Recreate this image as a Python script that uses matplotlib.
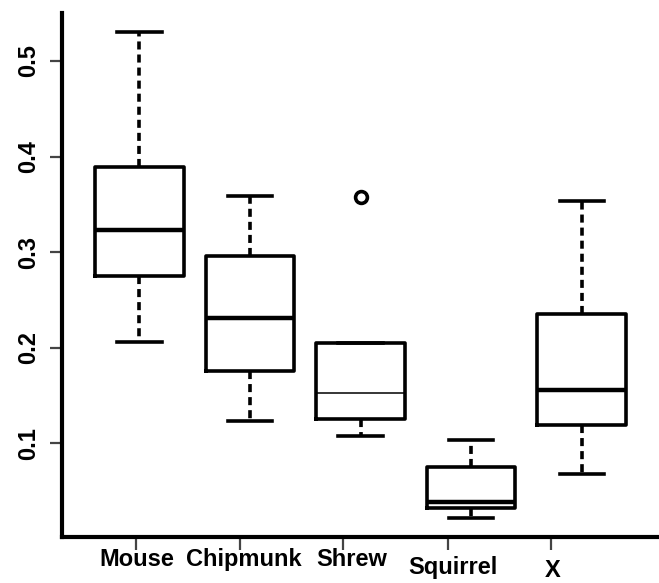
import matplotlib
matplotlib.use("Agg")
import matplotlib.pyplot as plt

# --- Data ---
species = ["Mouse", "Chipmunk", "Shrew", "Squirrel", "X"]
q1 = [0.275, 0.176, 0.125, 0.032, 0.119]
medians = [0.323, 0.231, 0.152, 0.038, 0.156]
q3 = [0.389, 0.296, 0.205, 0.075, 0.235]
whisk_lo = [0.206, 0.123, 0.107, 0.0215, 0.068]
whisk_hi = [0.530, 0.359, 0.205, 0.103, 0.353]
outliers = [[], [], [0.358], [], []]
y_ticks = [0.1, 0.2, 0.3, 0.4, 0.5]

# --- Layout ---
box_pos = [1, 2, 3, 4, 5]
tick_pos = [0.973, 1.909, 2.845, 3.79, 4.72]   # labels sit left of the boxes in the reference
label_pos = [0.98, 1.94, 2.92, 3.84, 4.74]
label_drop = [8, 8, 8, 14, 16]                 # points below the axis
median_lw = [3.2, 3.2, 1.1, 3.2, 3.2]

plt.rcParams["font.family"] = ["Liberation Sans", "DejaVu Sans"]
plt.rcParams["lines.scale_dashes"] = False

fig = plt.figure(figsize=(6.59, 5.83), dpi=100)
ax = fig.add_axes([0.0941, 0.0789, 0.9059, 0.8988])

stats = []
for i, name in enumerate(species):
    stats.append({
        "label": name,
        "q1": q1[i], "med": medians[i], "q3": q3[i],
        "whislo": whisk_lo[i], "whishi": whisk_hi[i],
        "fliers": outliers[i],
    })

lw = 2.6
parts = ax.bxp(
    stats, positions=box_pos, widths=0.8, showfliers=True,
    boxprops=dict(color="black", linewidth=lw),
    whiskerprops=dict(color="black", linewidth=lw, linestyle=(0, (5.8, 3.6))),
    capprops=dict(color="black", linewidth=lw),
    medianprops=dict(color="black", linewidth=3.2),
    flierprops=dict(marker="o", markerfacecolor="none", markeredgecolor="black",
                    markersize=8.5, markeredgewidth=2.6),
    capwidths=0.4,
)
for line, w in zip(parts["medians"], median_lw):
    line.set_linewidth(w)
    line.set_solid_capstyle("butt")

ax.set_xlim(0.3, 5.7)
ax.set_ylim(0.0017, 0.5503)

for side in ["top", "right"]:
    ax.spines[side].set_visible(False)
for side in ["left", "bottom"]:
    ax.spines[side].set_linewidth(3)
    ax.spines[side].set_capstyle("projecting")

ax.set_yticks(y_ticks)
ax.set_yticklabels([f"{v:.1f}" for v in y_ticks], rotation=90, va="center",
                   fontsize=17, fontweight="bold")
ax.tick_params(axis="y", length=9, width=1.6, color="#444444", pad=7)

ax.set_xticks(tick_pos)
ax.set_xticklabels([])
ax.tick_params(axis="x", length=9, width=1.6, color="#444444")

for x, name, drop in zip(label_pos, species, label_drop):
    ax.annotate(name, xy=(x, 0), xycoords=("data", "axes fraction"),
                xytext=(0, -drop), textcoords="offset points",
                ha="center", va="top", fontsize=17, fontweight="bold")

fig.savefig("out.png", dpi=100)
